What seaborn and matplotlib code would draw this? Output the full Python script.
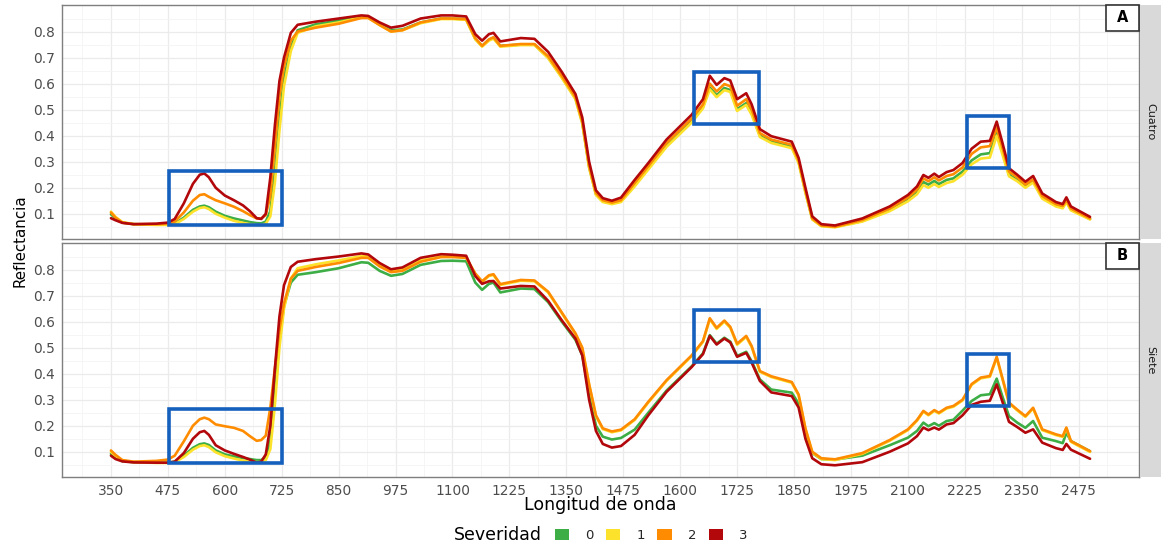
import matplotlib
matplotlib.use("Agg")
import matplotlib.pyplot as plt
from matplotlib.patches import Rectangle, Patch
from matplotlib.ticker import FixedLocator
import pandas as pd
import seaborn as sns

# ---------------------------------------------------------------- data
wavelength = [
    350, 360, 375, 400, 450, 475, 490, 510, 530, 545,
    555, 565, 580, 600, 620, 640, 655, 670, 680, 690,
    700, 710, 720, 730, 745, 760, 800, 850, 900, 915,
    940, 965, 990, 1030, 1075, 1100, 1130, 1150, 1165, 1180,
    1190, 1205, 1250, 1280, 1310, 1340, 1370, 1385, 1400, 1415,
    1430, 1450, 1470, 1500, 1530, 1570, 1625, 1650, 1665, 1680,
    1697, 1710, 1725, 1745, 1757, 1775, 1800, 1845, 1860, 1875,
    1890, 1910, 1940, 2000, 2060, 2100, 2120, 2134, 2145, 2158,
    2168, 2185, 2200, 2220, 2240, 2260, 2280, 2295, 2308, 2322,
    2340, 2358, 2375, 2395, 2425, 2440, 2448, 2458, 2500,
]

# Fecha "Cuatro"
cuatro_sev0 = [
    0.098, 0.082, 0.066, 0.060, 0.058, 0.058, 0.062, 0.085, 0.115, 0.128,
    0.131, 0.125, 0.108, 0.092, 0.082, 0.074, 0.068, 0.064, 0.063, 0.070,
    0.110, 0.260, 0.460, 0.620, 0.740, 0.805, 0.828, 0.842, 0.858, 0.855,
    0.828, 0.805, 0.808, 0.835, 0.850, 0.850, 0.847, 0.772, 0.745, 0.768,
    0.776, 0.745, 0.750, 0.750, 0.700, 0.625, 0.543, 0.450, 0.280, 0.175,
    0.148, 0.140, 0.148, 0.210, 0.275, 0.362, 0.455, 0.510, 0.585, 0.555,
    0.583, 0.575, 0.502, 0.525, 0.487, 0.400, 0.378, 0.358, 0.300, 0.185,
    0.080, 0.054, 0.050, 0.072, 0.115, 0.155, 0.183, 0.222, 0.212, 0.226,
    0.214, 0.230, 0.236, 0.262, 0.305, 0.328, 0.333, 0.410, 0.335, 0.250,
    0.230, 0.205, 0.225, 0.162, 0.132, 0.125, 0.148, 0.116, 0.080,
]
cuatro_sev1 = [
    0.108, 0.088, 0.068, 0.060, 0.057, 0.057, 0.060, 0.080, 0.108, 0.122,
    0.125, 0.118, 0.100, 0.085, 0.073, 0.065, 0.060, 0.057, 0.057, 0.062,
    0.090, 0.220, 0.420, 0.590, 0.725, 0.795, 0.820, 0.835, 0.855, 0.853,
    0.825, 0.800, 0.805, 0.832, 0.848, 0.848, 0.845, 0.770, 0.742, 0.765,
    0.773, 0.742, 0.748, 0.748, 0.698, 0.622, 0.540, 0.446, 0.276, 0.172,
    0.145, 0.137, 0.145, 0.205, 0.270, 0.357, 0.450, 0.505, 0.578, 0.548,
    0.575, 0.568, 0.495, 0.518, 0.480, 0.395, 0.372, 0.352, 0.295, 0.180,
    0.078, 0.052, 0.048, 0.070, 0.110, 0.148, 0.175, 0.210, 0.200, 0.214,
    0.203, 0.218, 0.225, 0.250, 0.290, 0.312, 0.316, 0.400, 0.325, 0.244,
    0.225, 0.200, 0.220, 0.158, 0.128, 0.121, 0.144, 0.113, 0.078,
]
cuatro_sev2 = [
    0.105, 0.085, 0.066, 0.060, 0.060, 0.062, 0.070, 0.105, 0.150, 0.172,
    0.175, 0.165, 0.152, 0.140, 0.127, 0.110, 0.095, 0.082, 0.082, 0.095,
    0.170, 0.360, 0.550, 0.665, 0.765, 0.800, 0.815, 0.830, 0.852, 0.852,
    0.825, 0.800, 0.805, 0.835, 0.850, 0.850, 0.848, 0.775, 0.745, 0.770,
    0.778, 0.745, 0.752, 0.752, 0.705, 0.630, 0.548, 0.455, 0.285, 0.180,
    0.152, 0.143, 0.152, 0.218, 0.283, 0.372, 0.465, 0.520, 0.600, 0.570,
    0.598, 0.590, 0.515, 0.540, 0.500, 0.410, 0.385, 0.365, 0.305, 0.190,
    0.082, 0.055, 0.050, 0.076, 0.120, 0.162, 0.193, 0.236, 0.225, 0.240,
    0.228, 0.245, 0.252, 0.278, 0.330, 0.355, 0.360, 0.430, 0.352, 0.262,
    0.240, 0.212, 0.232, 0.168, 0.137, 0.130, 0.153, 0.120, 0.082,
]
cuatro_sev3 = [
    0.083, 0.075, 0.065, 0.060, 0.062, 0.066, 0.080, 0.140, 0.215, 0.250,
    0.255, 0.240, 0.200, 0.170, 0.152, 0.132, 0.110, 0.083, 0.080, 0.100,
    0.240, 0.440, 0.610, 0.700, 0.795, 0.826, 0.838, 0.850, 0.862, 0.860,
    0.835, 0.815, 0.822, 0.850, 0.862, 0.862, 0.858, 0.790, 0.765, 0.790,
    0.795, 0.762, 0.775, 0.772, 0.722, 0.645, 0.560, 0.470, 0.300, 0.190,
    0.160, 0.150, 0.162, 0.230, 0.295, 0.385, 0.480, 0.540, 0.630, 0.595,
    0.621, 0.612, 0.540, 0.563, 0.520, 0.425, 0.398, 0.377, 0.315, 0.200,
    0.090, 0.060, 0.055, 0.082, 0.128, 0.172, 0.205, 0.249, 0.238, 0.254,
    0.241, 0.260, 0.268, 0.295, 0.350, 0.377, 0.380, 0.454, 0.370, 0.275,
    0.250, 0.223, 0.245, 0.178, 0.145, 0.137, 0.163, 0.128, 0.088,
]

# Fecha "Siete"
siete_sev0 = [
    0.092, 0.078, 0.064, 0.060, 0.058, 0.058, 0.062, 0.085, 0.115, 0.129,
    0.132, 0.126, 0.105, 0.090, 0.082, 0.076, 0.072, 0.068, 0.068, 0.080,
    0.140, 0.330, 0.530, 0.660, 0.750, 0.780, 0.790, 0.805, 0.828, 0.826,
    0.795, 0.776, 0.783, 0.818, 0.833, 0.834, 0.832, 0.750, 0.722, 0.745,
    0.750, 0.712, 0.727, 0.725, 0.675, 0.600, 0.530, 0.470, 0.320, 0.200,
    0.158, 0.147, 0.153, 0.185, 0.250, 0.335, 0.428, 0.478, 0.548, 0.515,
    0.538, 0.523, 0.468, 0.484, 0.447, 0.378, 0.339, 0.327, 0.285, 0.170,
    0.095, 0.072, 0.070, 0.085, 0.125, 0.154, 0.180, 0.212, 0.198, 0.210,
    0.200, 0.218, 0.223, 0.258, 0.295, 0.317, 0.321, 0.381, 0.310, 0.237,
    0.212, 0.192, 0.218, 0.154, 0.141, 0.133, 0.173, 0.141, 0.102,
]
siete_sev1 = [
    0.100, 0.083, 0.066, 0.060, 0.057, 0.057, 0.060, 0.080, 0.108, 0.122,
    0.125, 0.118, 0.098, 0.083, 0.074, 0.066, 0.062, 0.060, 0.060, 0.068,
    0.110, 0.280, 0.500, 0.650, 0.765, 0.805, 0.820, 0.835, 0.852, 0.850,
    0.818, 0.795, 0.800, 0.835, 0.850, 0.850, 0.847, 0.782, 0.752, 0.775,
    0.779, 0.741, 0.757, 0.755, 0.712, 0.632, 0.552, 0.497, 0.357, 0.237,
    0.187, 0.175, 0.182, 0.222, 0.289, 0.372, 0.467, 0.522, 0.609, 0.572,
    0.600, 0.576, 0.511, 0.541, 0.502, 0.407, 0.387, 0.365, 0.317, 0.187,
    0.097, 0.072, 0.068, 0.092, 0.142, 0.183, 0.219, 0.254, 0.240, 0.257,
    0.247, 0.266, 0.273, 0.297, 0.357, 0.382, 0.388, 0.461, 0.377, 0.286,
    0.259, 0.234, 0.266, 0.183, 0.164, 0.157, 0.190, 0.138, 0.099,
]
siete_sev2 = [
    0.105, 0.088, 0.068, 0.062, 0.065, 0.070, 0.085, 0.140, 0.200, 0.225,
    0.231, 0.225, 0.205, 0.198, 0.192, 0.180, 0.160, 0.142, 0.145, 0.162,
    0.270, 0.420, 0.570, 0.670, 0.765, 0.795, 0.810, 0.825, 0.845, 0.845,
    0.812, 0.790, 0.795, 0.830, 0.848, 0.848, 0.845, 0.785, 0.755, 0.778,
    0.782, 0.744, 0.760, 0.758, 0.715, 0.635, 0.555, 0.500, 0.360, 0.240,
    0.190, 0.178, 0.185, 0.225, 0.292, 0.375, 0.470, 0.525, 0.613, 0.576,
    0.604, 0.580, 0.515, 0.545, 0.506, 0.410, 0.390, 0.368, 0.320, 0.190,
    0.100, 0.075, 0.071, 0.095, 0.145, 0.186, 0.222, 0.257, 0.243, 0.260,
    0.250, 0.269, 0.276, 0.300, 0.360, 0.385, 0.391, 0.465, 0.380, 0.289,
    0.262, 0.237, 0.269, 0.186, 0.167, 0.160, 0.193, 0.141, 0.102,
]
siete_sev3 = [
    0.085, 0.072, 0.063, 0.059, 0.058, 0.058, 0.062, 0.095, 0.150, 0.175,
    0.180, 0.165, 0.125, 0.105, 0.092, 0.080, 0.070, 0.058, 0.062, 0.090,
    0.200, 0.420, 0.620, 0.740, 0.810, 0.830, 0.840, 0.850, 0.862, 0.858,
    0.825, 0.801, 0.808, 0.845, 0.859, 0.857, 0.853, 0.775, 0.745, 0.755,
    0.756, 0.727, 0.737, 0.735, 0.680, 0.605, 0.535, 0.470, 0.300, 0.180,
    0.130, 0.116, 0.122, 0.165, 0.240, 0.330, 0.425, 0.475, 0.545, 0.512,
    0.535, 0.520, 0.465, 0.480, 0.442, 0.372, 0.328, 0.314, 0.270, 0.150,
    0.075, 0.052, 0.048, 0.060, 0.100, 0.132, 0.160, 0.193, 0.183, 0.193,
    0.185, 0.205, 0.210, 0.240, 0.280, 0.292, 0.296, 0.359, 0.290, 0.215,
    0.195, 0.173, 0.186, 0.135, 0.114, 0.107, 0.130, 0.108, 0.073,
]

severities = ["0", "1", "2", "3"]
facets = ["Cuatro", "Siete"]
panel_tags = ["A", "B"]
x_ticks = [350, 475, 600, 725, 850, 975, 1100, 1225, 1350, 1475,
           1600, 1725, 1850, 1975, 2100, 2225, 2350, 2475]
y_ticks = [0.1, 0.2, 0.3, 0.4, 0.5, 0.6, 0.7, 0.8]

# highlighted absorption / reflectance features (wavelength span, reflectance span)
feature_wl = [(477, 725), (1630, 1772), (2229, 2322)]
feature_refl = [(0.055, 0.265), (0.445, 0.645), (0.275, 0.475)]

series = {
    "Cuatro": [cuatro_sev0, cuatro_sev1, cuatro_sev2, cuatro_sev3],
    "Siete": [siete_sev0, siete_sev1, siete_sev2, siete_sev3],
}

rows = []
for facet in facets:
    for sev, vals in zip(severities, series[facet]):
        for wl, r in zip(wavelength, vals):
            rows.append({"Fecha": facet, "Severidad": sev,
                         "Longitud": wl, "Reflectancia": r})
df = pd.DataFrame(rows)

# ---------------------------------------------------------------- style
sns.set_style("white")
plt.rcParams["font.family"] = ["DejaVu Sans"]

palette = {"0": "#3DAE46", "1": "#FCE22A", "2": "#FF8C00", "3": "#B2070B"}
box_color = "#1560BD"
border_color = "#7F7F7F"
tick_text = "#4D4D4D"

W, H = 1161, 546
fig = plt.figure(figsize=(W / 100, H / 100), dpi=100)

def frac(x0, y0, x1, y1):
    return [x0 / W, 1 - y1 / H, (x1 - x0) / W, (y1 - y0) / H]

panel_px = [(62, 5, 1139, 239), (62, 243, 1139, 477)]
strip_px = [(1140, 5, 1161, 239), (1140, 243, 1161, 477)]

minor_x = [t - 62.5 for t in x_ticks] + [x_ticks[-1] + 62.5]
minor_y = [0.05] + [t + 0.05 for t in y_ticks]

axes = []
for i, facet in enumerate(facets):
    ax = fig.add_axes(frac(*panel_px[i]))
    axes.append(ax)
    sub = df[df["Fecha"] == facet]
    sns.lineplot(data=sub, x="Longitud", y="Reflectancia", hue="Severidad",
                 hue_order=severities, palette=palette, linewidth=1.9,
                 estimator=None, sort=False, legend=False, ax=ax)
    ax.set_xlim(242.5, 2607.5)
    ax.set_ylim(0.003, 0.902)
    ax.set_xticks(x_ticks)
    ax.set_yticks(y_ticks)
    ax.xaxis.set_minor_locator(FixedLocator(minor_x))
    ax.yaxis.set_minor_locator(FixedLocator(minor_y))
    ax.grid(True, which="major", color="#EBEBEB", linewidth=0.9)
    ax.grid(True, which="minor", color="#F4F4F4", linewidth=0.6)
    ax.set_axisbelow(True)
    ax.set_yticklabels([f"{v:.1f}" for v in y_ticks])
    ax.tick_params(axis="both", which="major", length=3, width=0.7,
                   color="#333333", labelcolor=tick_text, labelsize=9.9, pad=2)
    ax.tick_params(axis="both", which="minor", length=0)
    if i == 0:
        ax.tick_params(axis="x", which="major", labelbottom=False, length=0)
    for sp in ax.spines.values():
        sp.set_color(border_color)
        sp.set_linewidth(1.0)
    ax.set_xlabel("")
    ax.set_ylabel("")

    for (x0, x1), (y0, y1) in zip(feature_wl, feature_refl):
        ax.add_patch(Rectangle((x0, y0), x1 - x0, y1 - y0, fill=False,
                               edgecolor=box_color, linewidth=2.6, zorder=5))

    # panel tag in the upper-right corner
    bw, bh = 33 / 1077, 26 / 234
    ax.add_patch(Rectangle((1 - bw, 1 - bh), bw, bh, transform=ax.transAxes,
                           facecolor="white", edgecolor="#333333",
                           linewidth=1.2, zorder=6, clip_on=False))
    ax.text(1 - bw / 2, 1 - bh / 2, panel_tags[i], transform=ax.transAxes,
            ha="center", va="center", fontsize=10.5, fontweight="bold",
            color="black", zorder=7)

    # facet strip
    sax = fig.add_axes(frac(*strip_px[i]))
    sax.set_facecolor("#D9D9D9")
    sax.set_xticks([])
    sax.set_yticks([])
    for sp in sax.spines.values():
        sp.set_visible(False)
    sax.text(0.5, 0.5, facet, rotation=-90, ha="center", va="center",
             fontsize=8, color="#1A1A1A", transform=sax.transAxes)

axes[1].tick_params(axis="x", labelsize=9.9)

fig.text(20 / W, 1 - 241 / H, "Reflectancia", rotation=90, ha="center",
         va="center", fontsize=10.8, color="black")
fig.text(600 / W, 1 - 505 / H, "Longitud de onda", ha="center",
         va="center", fontsize=12.5, color="black")

# legend below the panels
fig.text(542 / W, 1 - 535.5 / H, "Severidad", ha="right", va="center",
         fontsize=12.5, color="black")
handles = [Patch(facecolor=palette[s], edgecolor="none") for s in severities]
fig.legend(handles, severities, ncol=4, frameon=False, fontsize=9.5,
           loc="center left", bbox_to_anchor=(552 / W, 1 - 535.5 / H),
           handlelength=1.1, handleheight=0.9, handletextpad=1.2,
           columnspacing=0.95, borderaxespad=0, borderpad=0.2)

fig.savefig("out.png", dpi=100)
